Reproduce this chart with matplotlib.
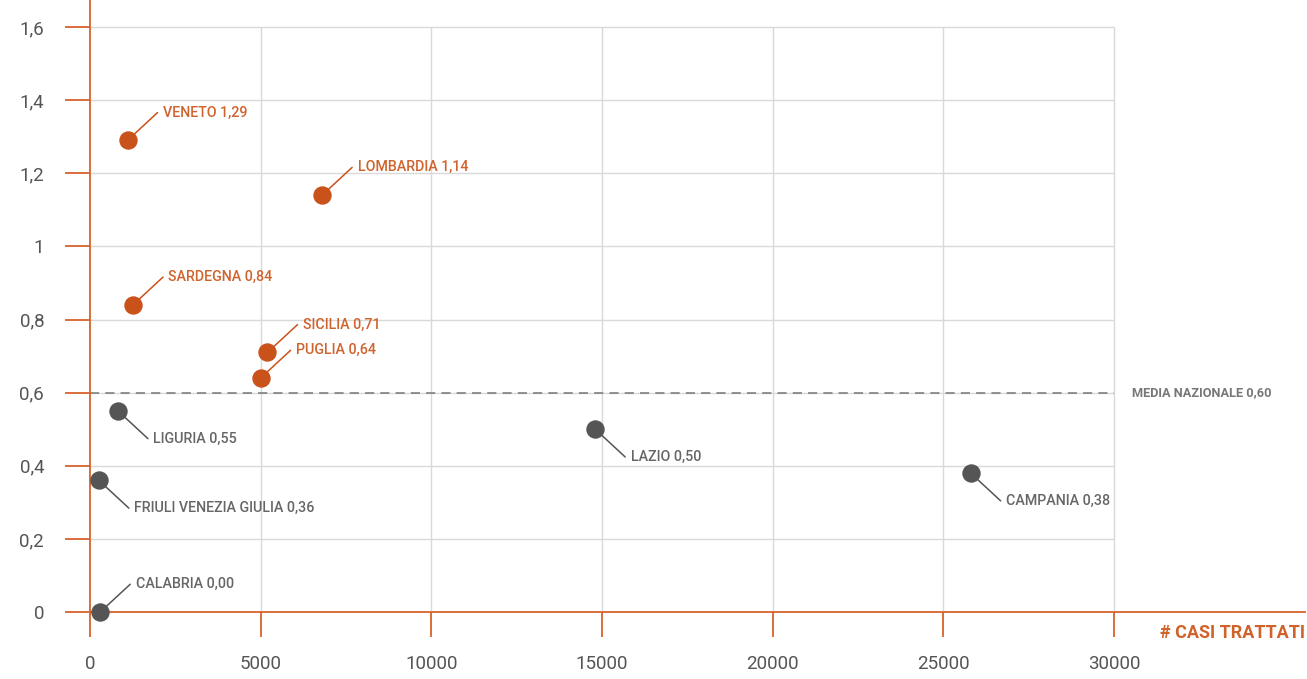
import matplotlib.pyplot as plt
import numpy as np

# data
regions = ['VENETO', 'LOMBARDIA', 'SARDEGNA', 'SICILIA', 'PUGLIA',
           'LIGURIA', 'LAZIO', 'CAMPANIA', 'FRIULI VENEZIA GIULIA', 'CALABRIA']
casi = [1100, 6800, 1260, 5200, 5000, 820, 14800, 25800, 260, 300]
indice = [1.29, 1.14, 0.84, 0.71, 0.64, 0.55, 0.50, 0.38, 0.36, 0.00]
media_nazionale = 0.60

x_ticks = [0, 5000, 10000, 15000, 20000, 25000, 30000]
y_ticks = [0, 0.2, 0.4, 0.6, 0.8, 1.0, 1.2, 1.4, 1.6]

ORANGE = '#C9521B'
ORANGE_TXT = '#D0622C'
AXIS = '#D8622A'
GREY = '#555555'
GREY_TXT = '#666666'
GRID = '#D9D9D9'

plt.rcParams['font.family'] = ['Roboto', 'DejaVu Sans']

fig = plt.figure(figsize=(13.07, 6.79), dpi=100)
ax = fig.add_axes([90 / 1307, 67 / 679, 1215 / 1307, 612 / 679])
ax.set_xlim(0, 1215 / 1024 * 30000)
ax.set_ylim(0, 612 / 585 * 1.6)

# grid clipped to the 0..30000 / 0..1.6 area
ax.hlines(y_ticks[1:], 0, 30000, color=GRID, lw=1, zorder=0)
ax.vlines(x_ticks[1:], 0, 1.6, color=GRID, lw=1, zorder=0)
ax.hlines(media_nazionale, 0, 30000, color='#777777', lw=1.1,
          linestyles=(0, (6, 4)), zorder=1)
ax.text(30000 + 520, media_nazionale, 'MEDIA NAZIONALE 0,60', color='#777777',
        fontsize=9.2, fontweight='bold', va='center', ha='left')

for s in ['top', 'right']:
    ax.spines[s].set_visible(False)
for s in ['left', 'bottom']:
    ax.spines[s].set_color(AXIS)
    ax.spines[s].set_linewidth(1.3)

ax.set_xticks(x_ticks)
ax.set_xticklabels([str(v) for v in x_ticks])
ax.set_yticks(y_ticks)
ax.set_yticklabels([('%g' % v).replace('.', ',') for v in y_ticks])
ax.tick_params(axis='both', direction='out', length=18, width=1.3, color=AXIS,
               labelcolor=GREY, labelsize=13.5)
ax.tick_params(axis='y', pad=15)
ax.tick_params(axis='x', pad=13)

ax.text(1.0, -0.02, '# CASI TRATTATI', transform=ax.transAxes, ha='right', va='top',
        color=ORANGE_TXT, fontsize=13, fontweight='bold')

for name, x, y in zip(regions, casi, indice):
    above = y > media_nazionale or y == 0
    col = ORANGE if y > media_nazionale else GREY
    tcol = ORANGE_TXT if y > media_nazionale else GREY_TXT
    ax.scatter(x, y, s=150, color=col, zorder=3, clip_on=False)
    dy = 20 if above else -20
    label = f'{name} {y:.2f}'.replace('.', ',')
    # leader line, then the label just past its end
    ax.annotate('', xy=(x, y), xytext=(21.6, dy), textcoords='offset points',
                arrowprops=dict(arrowstyle='-', color=col, lw=1.1,
                                shrinkA=0, shrinkB=6))
    ax.annotate(label, xy=(x, y), xytext=(25.5, dy), textcoords='offset points',
                ha='left', va='center', color=tcol, fontsize=10.3,
                fontweight='medium')

plt.savefig('out.png', dpi=100)
plt.close()
